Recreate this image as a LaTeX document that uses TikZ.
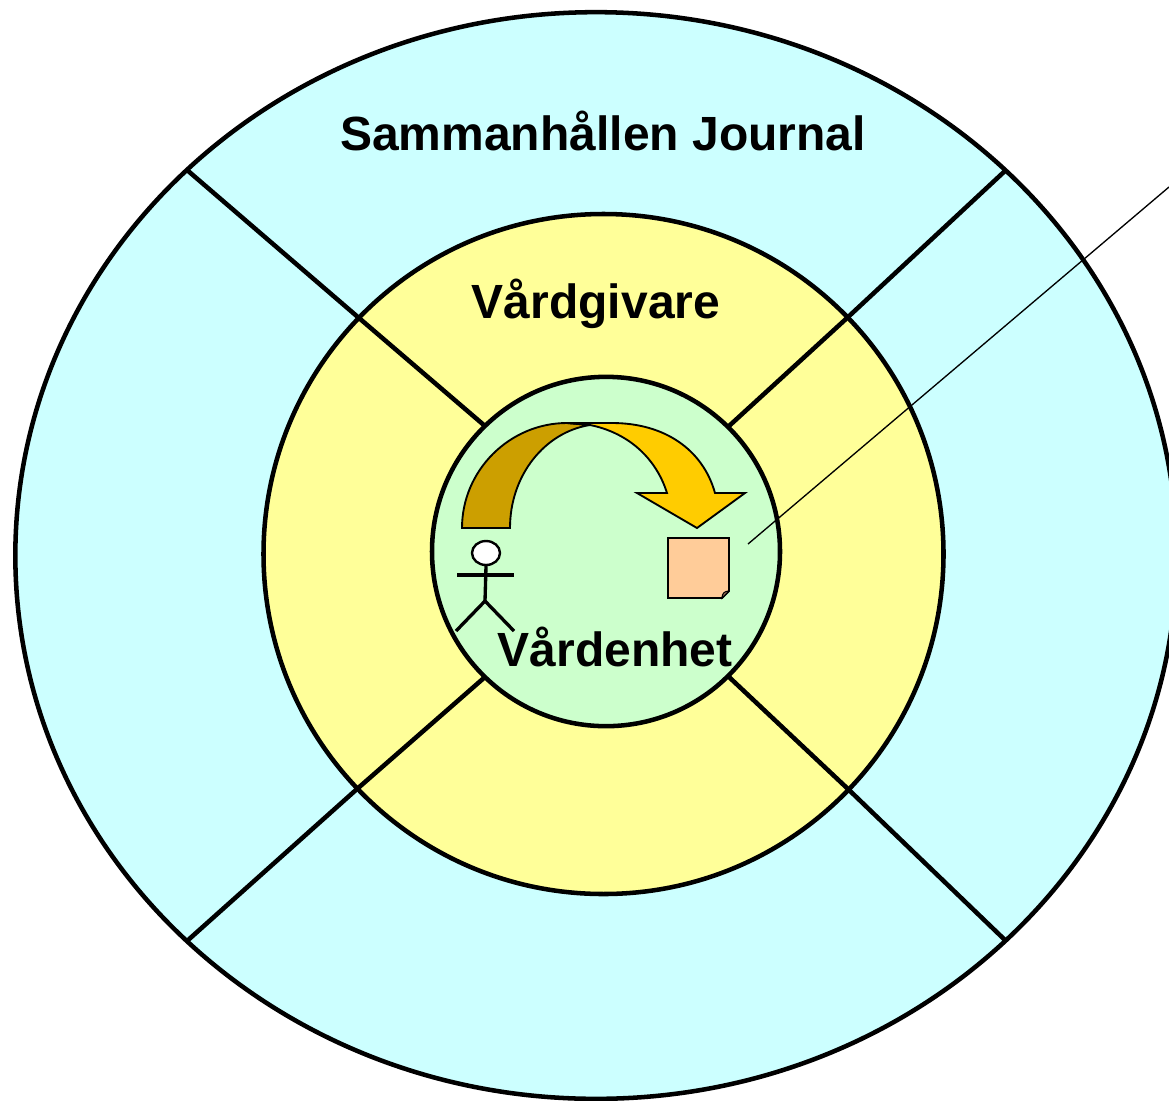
\documentclass[tikz,border=0pt]{standalone}
\usepackage{fontspec}
\setmainfont{Liberation Sans}
\usepackage{xcolor}
\usetikzlibrary{shapes,positioning,calc}

\definecolor{journalblue}{HTML}{CCFFFF}
\definecolor{givareyellow}{HTML}{FFFF99}
\definecolor{enhetgreen}{HTML}{CCFFCC}
\definecolor{arrowdark}{HTML}{CC9F00}
\definecolor{arrowlight}{HTML}{FFCC00}
\definecolor{notepeach}{HTML}{FFCC99}
\definecolor{foldgray}{HTML}{996F55}

\begin{document}
\begin{tikzpicture}[x=0.75pt, y=-0.75pt]
    \tikzstyle{ring} = [ellipse, draw, line width=3.4pt, inner sep=0pt]
    \tikzstyle{spoke} = [draw, line width=3.4pt]
    \tikzstyle{title} = [font=\bfseries\fontsize{36}{40}\selectfont, inner sep=0pt]
    \tikzstyle{outlined} = [draw, line width=1.4pt, line join=miter]
    \tikzstyle{stickman} = [draw, line width=2.5pt]

    \useasboundingbox (0,0) rectangle (1169,1100);

    \node [ring, fill=journalblue, minimum width=871pt, minimum height=815pt] (journal) at (596,555.5) {};
    \node [ring, fill=givareyellow, minimum width=510pt, minimum height=510pt] (givare) at (603.5,554) {};

    % spokes
    \coordinate (nw) at (187,170);
    \coordinate (nwm) at (359,318);
    \coordinate (nwi) at (485,426);
    \coordinate (ne) at (1006,170);
    \coordinate (nem) at (847,318);
    \coordinate (nei) at (729,426);
    \coordinate (sw) at (187,941);
    \coordinate (swm) at (357,789);
    \coordinate (swi) at (485,677);
    \coordinate (se) at (1006,941);
    \coordinate (sem) at (848,789);
    \coordinate (sei) at (729,677);
    \path [spoke] (nw) -- (nwm) -- (nwi);
    \path [spoke] (ne) -- (nem) -- (nei);
    \path [spoke] (sw) -- (swm) -- (swi);
    \path [spoke] (se) -- (sem) -- (sei);

    \node [ring, fill=enhetgreen, minimum width=261pt, minimum height=262pt] (enhet) at (606,551.5) {};

    \node [title] (journaltext) at (603,131) {Sammanhållen Journal};
    \node [title] (givaretext) at (596,304) {Vårdgivare};

    % arrow
    \path [outlined, fill=arrowdark] (462,528) .. controls (462,470) and (510,423) .. (567,423)
        -- (590,425) .. controls (545,432) and (510,475) .. (510,528) -- cycle;
    \path [outlined, fill=arrowlight] (567,423) -- (612,423) .. controls (665,423) and (703,450) .. (715,493)
        -- (745,493) -- (697,528) -- (637,493) -- (667,493)
        .. controls (655,455) and (625,432) .. (590,425) -- cycle;

    % person
    \node [ellipse, draw, line width=1.8pt, fill=white, inner sep=0pt, minimum width=21pt, minimum height=18pt] (head) at (486,553) {};
    \coordinate (hip) at (485,601);
    \coordinate (armleft) at (457,575);
    \coordinate (armright) at (514,575);
    \coordinate (footleft) at (456,631);
    \coordinate (footright) at (514,631);
    \path [stickman] (head.south) -- (hip);
    \path [stickman] (armleft) -- (armright);
    \path [stickman] (footleft) -- (hip) -- (footright);

    % note
    \path [outlined, fill=notepeach] (668,538) -- (729,538) -- (729,591) -- (722,598) -- (668,598) -- cycle;
    \path [draw, line width=0.8pt, fill=foldgray] (729,591) -- (722,598) .. controls (722,594) and (724,591) .. (729,591);

    \node [title] (enhettext) at (615,647) {Vårdenhet};

    \coordinate (linkstart) at (748,544);
    \coordinate (linkend) at (1169,187);
    \path [draw, line width=1pt] (linkstart) -- (linkend);
\end{tikzpicture}
\end{document}
